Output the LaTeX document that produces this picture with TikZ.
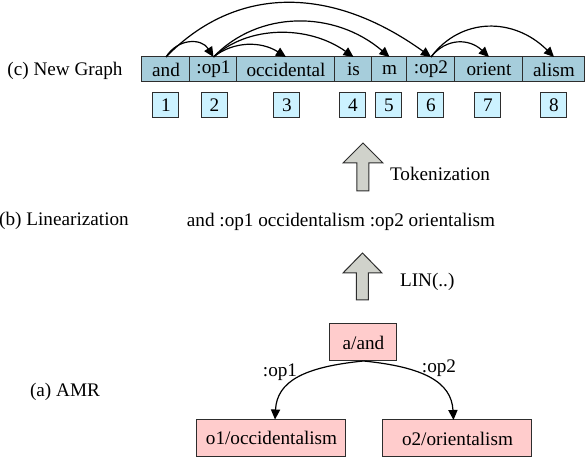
\documentclass[tikz,border=0pt]{standalone}
\usepackage{fontspec}
\setmainfont{Liberation Serif}
\usetikzlibrary{arrows.meta}
\definecolor{tokenblue}{RGB}{166,205,219}
\definecolor{indexblue}{RGB}{204,242,255}
\definecolor{amrpink}{RGB}{255,204,204}
\definecolor{arrowgray}{RGB}{208,210,203}
\definecolor{linegray}{RGB}{45,45,45}
\tikzstyle{box}=[draw=linegray, line width=0.5pt, inner sep=0, outer sep=0]
\tikzstyle{token}=[box, fill=tokenblue, minimum height=12.5pt]
\tikzstyle{index}=[box, fill=indexblue, minimum width=13pt, minimum height=12.5pt]
\tikzstyle{amr}=[box, fill=amrpink, minimum height=18.5pt]
\tikzstyle{arc}=[line width=0.6pt, -{Triangle[length=5pt,width=4.6pt]}]
\tikzstyle{blockarrow}=[draw=linegray, line width=0.5pt, fill=arrowgray]
\tikzstyle{diagram}=[x=0.5pt, y=-0.5pt,
                     % Same font size everywhere.
                     every node/.style={font=\rmfamily\fontsize{9.6}{11.5}\selectfont}]

\begin{document}
\begin{tikzpicture}[diagram]
    \useasboundingbox (0,0) rectangle (586,458);
    % (c) tokens
    \node (lc) at (65,71) {(c) New Graph};
    \node[token, minimum width=24pt] (and) at (166,69.5) {and};
    \node[token, minimum width=23.5pt] (op1) at (213.5,69.5) {:op1};
    \node[token, minimum width=49pt] (occ) at (286,69.5) {occidental};
    \node[token, minimum width=18.5pt] (is) at (353.5,69.5) {is};
    \node[token, minimum width=17.5pt] (m) at (389.5,69.5) {m};
    \node[token, minimum width=24pt] (op2) at (431,69.5) {:op2};
    \node[token, minimum width=34pt] (ori) at (489,69.5) {orient};
    \node[token, minimum width=31pt] (alism) at (554,69.5) {alism};
    \node[index] (i1) at (166,105.5) {1};
    \node[index] (i2) at (214.5,105.5) {2};
    \node[index] (i3) at (287,105.5) {3};
    \node[index] (i4) at (353,105.5) {4};
    \node[index] (i5) at (389,105.5) {5};
    \node[index] (i6) at (431,105.5) {6};
    \node[index] (i7) at (488,105.5) {7};
    \node[index] (i8) at (554,105.5) {8};
    \draw[arc] (and.north) .. controls +(12,-19) and +(-12,-19) .. (op1.north);
    \draw[arc] (and.north) .. controls +(70,-72) and +(-100,-72) .. (op2.north);
    \draw[arc] (op1.north) .. controls +(20,-16) and +(-25,-16) .. (occ.north);
    \draw[arc] (op1.north) .. controls +(35,-32) and +(-45,-32) .. (is.north);
    \draw[arc] (op1.north) .. controls +(45,-47) and +(-55,-47) .. (m.north);
    \draw[arc] (op2.north) .. controls +(15,-19) and +(-20,-19) .. (ori.north);
    \draw[arc] (op2.north) .. controls +(30,-40) and +(-40,-40) .. (alism.north);
    % tokenization step
    \draw[blockarrow] (363,143) -- (383,163) -- (369,163) -- (369,191)
        -- (357,191) -- (357,163) -- (343,163) -- cycle;
    \node[anchor=west] (tok) at (383,174) {Tokenization};
    % (b) linearization
    \node (lb) at (64,221) {(b) Linearization};
    \node (lin) at (341,222) {and :op1 occidentalism :op2 orientalism};
    \draw[blockarrow] (362.5,253) -- (382,273) -- (368.5,273) -- (368.5,300)
        -- (356.5,300) -- (356.5,273) -- (343,273) -- cycle;
    \node[anchor=west] (linfn) at (393,282) {LIN(..)};
    % (a) AMR graph
    \node (la) at (65,392) {(a) AMR};
    \node[amr, minimum width=33.5pt] (a) at (363.5,342.5) {a/and};
    \node[amr, minimum width=74.5pt] (o1) at (271.5,438) {o1/occidentalism};
    \node[amr, minimum width=74.5pt] (o2) at (457.5,438.5) {o2/orientalism};
    \draw[arc] (a.south) .. controls +(-60,6) and +(2,-38) .. ([xshift=1.75pt]o1.north);
    \draw[arc] (a.south) .. controls +(60,6) and +(-2,-38) .. ([xshift=-2pt]o2.north);
    \node (e1) at (280,372) {:op1};
    \node (e2) at (439,368) {:op2};
\end{tikzpicture}
\end{document}
